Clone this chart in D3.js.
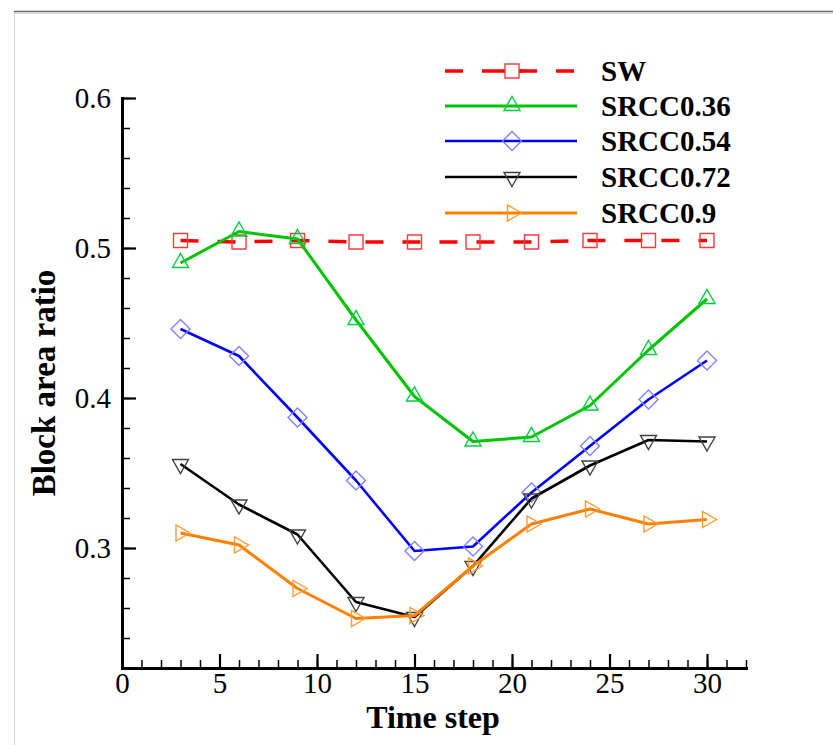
<!DOCTYPE html>
<html>
<head>
<meta charset="utf-8">
<script src="https://cdn.jsdelivr.net/npm/d3@7"></script>
<style>
  html, body { margin: 0; padding: 0; background: #fff; }
  svg { display: block; font-family: "Liberation Serif", "Times New Roman", serif; }
</style>
</head>
<body>
<div id="chart"></div>
<script>
// data
const timeSteps = [3, 6, 9, 12, 15, 18, 21, 24, 27, 30];
const sw        = [0.505, 0.504, 0.505, 0.504, 0.504, 0.504, 0.504, 0.505, 0.505, 0.505];
const srcc036   = [0.490, 0.511, 0.506, 0.452, 0.401, 0.371, 0.374, 0.395, 0.432, 0.466];
const srcc054   = [0.446, 0.428, 0.387, 0.345, 0.298, 0.301, 0.337, 0.368, 0.399, 0.425];
const srcc072   = [0.356, 0.329, 0.309, 0.264, 0.254, 0.288, 0.333, 0.355, 0.372, 0.371];
const srcc09    = [0.310, 0.302, 0.273, 0.253, 0.255, 0.288, 0.316, 0.326, 0.316, 0.319];
const seriesNames = ["SW", "SRCC0.36", "SRCC0.54", "SRCC0.72", "SRCC0.9"];
const xTicks = [0, 5, 10, 15, 20, 25, 30];
const yTicks = [0.3, 0.4, 0.5, 0.6];

const W = 833, H = 745;
const svg = d3.select('#chart').append('svg')
  .attr('width', W).attr('height', H);

// picture frame (top + left edges of the cropped figure)
svg.append('line').attr('x1', 14).attr('x2', W).attr('y1', 11.5).attr('y2', 11.5)
  .attr('stroke', '#666').attr('stroke-width', 1.6);
svg.append('line').attr('x1', 14).attr('x2', W).attr('y1', 13.5).attr('y2', 13.5)
  .attr('stroke', '#ddd').attr('stroke-width', 1);
svg.append('line').attr('x1', 14.5).attr('x2', 14.5).attr('y1', 12).attr('y2', H)
  .attr('stroke', '#d4d4d4').attr('stroke-width', 1);

const x = d3.scaleLinear().domain([0, 32]).range([122, 746]);
const y = d3.scaleLinear().domain([0.22, 0.6]).range([668, 98]);

// minor ticks first, then major ticks with labels
svg.append('g').attr('transform', 'translate(0,668)')
  .call(d3.axisBottom(x).tickValues(d3.range(0, 33, 1)).tickSize(-8).tickSizeOuter(0).tickFormat(''))
  .call(g => g.select('.domain').remove())
  .call(g => g.selectAll('.tick line').attr('stroke-width', 1.5));
svg.append('g').attr('transform', 'translate(122,0)')
  .call(d3.axisLeft(y).tickValues(d3.range(0.22, 0.601, 0.02)).tickSize(-8).tickSizeOuter(0).tickFormat(''))
  .call(g => g.select('.domain').remove())
  .call(g => g.selectAll('.tick line').attr('stroke-width', 1.5));

const xAxis = svg.append('g').attr('transform', 'translate(0,668)')
  .call(d3.axisBottom(x).tickValues(xTicks).tickSize(-14).tickSizeOuter(0).tickPadding(4).tickFormat(d3.format('d')));
const yAxis = svg.append('g').attr('transform', 'translate(122,0)')
  .call(d3.axisLeft(y).tickValues(yTicks).tickSize(-14).tickSizeOuter(0).tickPadding(11).tickFormat(d3.format('.1f')));

[xAxis, yAxis].forEach(a => {
  a.select('.domain').attr('stroke-width', 3).attr('stroke-linecap', 'square');
  a.selectAll('.tick line').attr('stroke-width', 2.2);
  a.selectAll('.tick text').attr('font-size', 29).attr('font-family', '"Liberation Serif", serif').attr('fill', '#000');
});

// axis titles
svg.append('text').attr('x', 433).attr('y', 728).attr('text-anchor', 'middle')
  .attr('font-size', 32).attr('font-weight', 'bold').text('Time step');
svg.append('text').attr('transform', 'translate(55,383) rotate(-90)').attr('text-anchor', 'middle')
  .attr('font-size', 33).attr('font-weight', 'bold').text('Block area ratio');

// marker shapes, centred on the point
const shapes = {
  square: 'M-7,-7H7V7H-7Z',
  up: 'M0,-9.5L8,4.5L-8,4.5Z',
  diamond: 'M0,-9.5L9.5,0L0,9.5L-9.5,0Z',
  down: 'M0,9.5L8,-4.5L-8,-4.5Z',
  right: 'M9.5,0L-4.5,8L-4.5,-8Z'
};

const series = [
  { name: seriesNames[0], values: sw,      line: '#ff0000', mark: '#ff3a3a', width: 3.5, dash: '18,19', shape: 'square' },
  { name: seriesNames[1], values: srcc036, line: '#00c400', mark: '#00d040', width: 3,   dash: null,    shape: 'up' },
  { name: seriesNames[2], values: srcc054, line: '#0000ff', mark: '#8080ff', width: 2.6, dash: null,    shape: 'diamond' },
  { name: seriesNames[3], values: srcc072, line: '#000000', mark: '#404040', width: 2.6, dash: null,    shape: 'down' },
  { name: seriesNames[4], values: srcc09,  line: '#ff8000', mark: '#ff9a30', width: 3,   dash: null,    shape: 'right' }
];

const lineGen = d3.line().x(d => x(d[0])).y(d => y(d[1]));

series.forEach(s => {
  const pts = timeSteps.map((t, i) => [t, s.values[i]]);
  const g = svg.append('g');
  g.append('path').datum(pts).attr('d', lineGen)
    .attr('fill', 'none').attr('stroke', s.line).attr('stroke-width', s.width)
    .attr('stroke-linejoin', 'round')
    .attr('stroke-dasharray', s.dash);
  g.selectAll('path.mk').data(pts).join('path').attr('class', 'mk')
    .attr('d', shapes[s.shape])
    .attr('transform', d => `translate(${x(d[0])},${y(d[1])})`)
    .attr('fill', 'none').attr('stroke', s.mark).attr('stroke-width', 1.4);
});

// legend
const legendY = [71, 106, 141, 177, 213];
series.forEach((s, i) => {
  const ly = legendY[i];
  svg.append('line').attr('x1', 445).attr('x2', 577).attr('y1', ly).attr('y2', ly)
    .attr('stroke', s.line).attr('stroke-width', s.width).attr('stroke-dasharray', s.dash);
  if (s.dash) {
    svg.append('line').attr('x1', 500).attr('x2', 524).attr('y1', ly).attr('y2', ly)
      .attr('stroke', s.line).attr('stroke-width', s.width);
  }
  svg.append('path').attr('d', shapes[s.shape]).attr('transform', `translate(512,${ly})`)
    .attr('fill', s.dash ? '#fff' : 'none').attr('stroke', s.mark).attr('stroke-width', 1.4);
  svg.append('text').attr('x', 601).attr('y', ly + 9.5)
    .attr('font-size', 29).attr('font-weight', 'bold').text(s.name);
});
</script>
</body>
</html>
